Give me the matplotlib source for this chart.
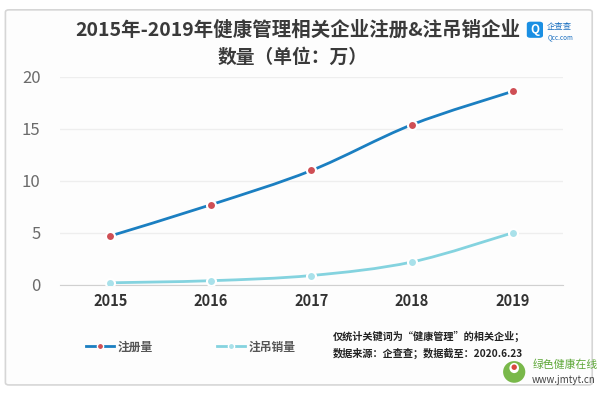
import matplotlib
matplotlib.use("Agg")
import matplotlib.pyplot as plt
from matplotlib.path import Path
from matplotlib.patches import PathPatch, FancyBboxPatch, Ellipse
from matplotlib.lines import Line2D

plt.rcParams['font.family'] = ['Noto Sans CJK SC', 'DejaVu Sans']

# ── Data (万) ─────────────────────────────────────────────────────────────────
years = ["2015", "2016", "2017", "2018", "2019"]
registered = [4.7, 7.7, 11.0, 15.4, 18.6]
cancelled = [0.2, 0.4, 0.9, 2.2, 5.0]
yticks = [0, 5, 10, 15, 20]

title_1 = "2015年-2019年健康管理相关企业注册&注吊销企业"
title_2 = "数量（单位：万）"
note_1 = "仅统计关键词为“健康管理”的相关企业；"
note_2 = "数据来源：企查查；数据截至：2020.6.23"

REG_LINE = "#1b7fc1"
REG_MARK = "#cf4f55"
CAN_LINE = "#84d3df"
CAN_MARK = "#a9e1ea"


def smooth_path(xs, ys):
    """Catmull-Rom style cubic Bezier path through the data points."""
    verts = [(xs[0], ys[0])]
    codes = [Path.MOVETO]
    n = len(xs)
    for i in range(n - 1):
        p0 = (xs[max(i - 1, 0)], ys[max(i - 1, 0)])
        p1 = (xs[i], ys[i])
        p2 = (xs[i + 1], ys[i + 1])
        p3 = (xs[min(i + 2, n - 1)], ys[min(i + 2, n - 1)])
        c1 = (p1[0] + (p2[0] - p0[0]) / 6, p1[1] + (p2[1] - p0[1]) / 6)
        c2 = (p2[0] - (p3[0] - p1[0]) / 6, p2[1] - (p3[1] - p1[1]) / 6)
        verts += [c1, c2, p2]
        codes += [Path.CURVE4] * 3
    return Path(verts, codes)


fig = plt.figure(figsize=(6.0, 3.94), dpi=100)
fig.patch.set_facecolor("white")

# outer frame
frame = FancyBboxPatch((0.009, 0.023), 0.978, 0.952, boxstyle="round,pad=0,rounding_size=0.006",
                       transform=fig.transFigure, facecolor="#fdfdfd", edgecolor="#d6d6d6",
                       linewidth=1.2, zorder=-5)
fig.patches.append(frame)

ax = fig.add_axes([0.10, 0.277, 0.838, 0.528])
ax.set_facecolor("none")
x = list(range(len(years)))

for vals, lc, mc in [(registered, REG_LINE, REG_MARK), (cancelled, CAN_LINE, CAN_MARK)]:
    ax.add_patch(PathPatch(smooth_path(x, vals), facecolor="none", edgecolor=lc,
                           linewidth=2.0, zorder=3, capstyle="round"))
    ax.plot(x, vals, linestyle="none", marker="o", markersize=6.5,
            markerfacecolor=mc, markeredgecolor="white", markeredgewidth=1.5, zorder=4)

ax.set_xlim(-0.5, 4.5)
ax.set_ylim(0, 20)
ax.set_yticks(yticks)
ax.set_xticks(x)
ax.set_xticklabels(years, fontsize=10.5, fontweight="bold", color="#333333")
ax.tick_params(axis="y", labelsize=12, labelcolor="#6b6b6b", length=0, pad=14)
ax.tick_params(axis="x", length=0, pad=6)
ax.grid(axis="y", color="#eeeeee", linewidth=1)
ax.set_axisbelow(True)
for s in ["top", "right", "left"]:
    ax.spines[s].set_visible(False)
ax.spines["bottom"].set_color("#d0d0d0")

# title
fig.text(0.497, 0.924, title_1, ha="center", va="center", fontsize=14,
         fontweight="bold", color="#3a3a3a")
fig.text(0.487, 0.855, title_2, ha="center", va="center", fontsize=13.5,
         fontweight="bold", color="#3a3a3a")

# Qcc logo
logo = FancyBboxPatch((0.878, 0.904), 0.027, 0.041, boxstyle="round,pad=0,rounding_size=0.006",
                      transform=fig.transFigure, facecolor="#1a8fe3", edgecolor="none")
fig.patches.append(logo)
fig.text(0.8915, 0.925, "Q", ha="center", va="center", fontsize=8.5, fontweight="bold", color="white")
fig.text(0.912, 0.934, "企查查", ha="left", va="center", fontsize=6, color="#1a6fc0")
fig.text(0.912, 0.906, "Qcc.com", ha="left", va="center", fontsize=4.5, color="#1a6fc0")

# legend
handles = [
    Line2D([], [], color=REG_LINE, linewidth=2.0, marker="o", markersize=4.5,
           markerfacecolor=REG_MARK, markeredgecolor="white"),
    Line2D([], [], color=CAN_LINE, linewidth=2.0, marker="o", markersize=4.5,
           markerfacecolor=CAN_MARK, markeredgecolor="white"),
]
fig.legend(handles, ["注册量", "注吊销量"], loc="center left", bbox_to_anchor=(0.125, 0.119),
           ncol=2, frameon=False, prop={"size": 8.5, "weight": "bold"}, handlelength=2.4,
           handletextpad=0.3, columnspacing=5.4, numpoints=1, labelcolor="#555555")

# notes
fig.text(0.555, 0.147, note_1, ha="left", va="center", fontsize=7.3, fontweight="bold", color="#222222")
fig.text(0.555, 0.104, note_2, ha="left", va="center", fontsize=7.3, fontweight="bold", color="#222222")

# watermark
fig.patches.append(Ellipse((0.857, 0.056), 0.037, 0.055, transform=fig.transFigure,
                           facecolor="#79b84a", edgecolor="none"))
fig.patches.append(Ellipse((0.857, 0.066), 0.016, 0.026, transform=fig.transFigure,
                           facecolor="white", edgecolor="none"))
fig.patches.append(Ellipse((0.857, 0.068), 0.009, 0.014, transform=fig.transFigure,
                           facecolor="#d9473f", edgecolor="none"))
fig.text(0.887, 0.074, "绿色健康在线", ha="left", va="center", fontsize=7.8, color="#5ea838")
fig.text(0.887, 0.036, "www.jmtyt.cn", ha="left", va="center", fontsize=7, color="#444444")

fig.savefig("out.png", dpi=100)
